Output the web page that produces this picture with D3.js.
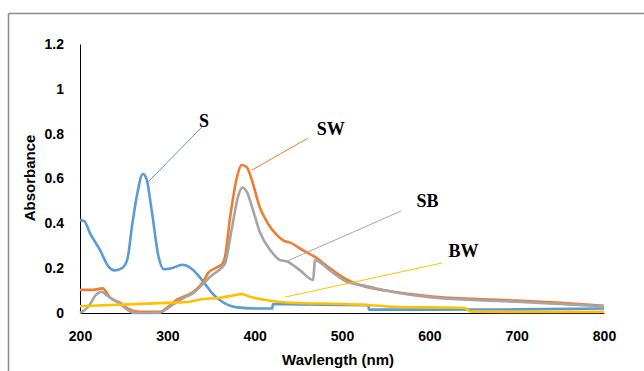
<!DOCTYPE html>
<html>
<head>
<meta charset="utf-8">
<script src="https://cdn.jsdelivr.net/npm/d3@7"></script>
<style>
  body { margin: 0; background: #fff; }
  .tick text { font-family: "Liberation Sans", Arial, sans-serif; font-weight: bold; font-size: 14px; fill: #000; }
  .axis-title { font-family: "Liberation Sans", Arial, sans-serif; font-weight: bold; font-size: 15px; fill: #000; }
  .note { font-family: "Liberation Serif", "Times New Roman", serif; font-weight: bold; font-size: 18px; fill: #000; }
</style>
</head>
<body>
<div id="chart"></div>
<script>
// S
const sWave = [200, 205, 211, 223, 232, 240, 248, 254, 260, 265, 272, 276, 282, 290, 296, 305, 317, 325, 330, 337, 345, 352, 360, 370, 380, 400, 420, 421, 450, 500, 530, 531, 600, 700, 800];
const sAbs  = [0.415, 0.41, 0.36, 0.28, 0.21, 0.19, 0.2, 0.236, 0.4, 0.52, 0.62, 0.6, 0.46, 0.25, 0.195, 0.2, 0.215, 0.205, 0.19, 0.16, 0.12, 0.085, 0.058, 0.035, 0.025, 0.02, 0.02, 0.04, 0.038, 0.036, 0.035, 0.015, 0.015, 0.016, 0.02];
// SW
const swWave = [200, 215, 226, 234, 246, 255, 262, 275, 292, 300, 311, 320, 330, 341, 347, 355, 363, 366, 372, 380, 385, 391, 397, 406, 415, 425, 435, 440, 455, 469, 486, 505, 524, 550, 600, 650, 700, 750, 800];
const swAbs  = [0.103, 0.103, 0.11, 0.07, 0.045, 0.02, 0.008, 0.005, 0.005, 0.025, 0.06, 0.075, 0.095, 0.14, 0.18, 0.2, 0.22, 0.25, 0.43, 0.61, 0.66, 0.65, 0.59, 0.47, 0.4, 0.35, 0.32, 0.315, 0.28, 0.25, 0.2, 0.15, 0.12, 0.1, 0.075, 0.063, 0.055, 0.045, 0.032];
// SB
const sbWave = [200, 210, 218, 225, 230, 238, 246, 254, 262, 290, 300, 311, 320, 330, 341, 350, 363, 366, 374, 381, 386, 391, 398, 406, 418, 429, 437, 452, 467, 469, 486, 505, 528, 550, 600, 650, 700, 750, 800];
const sbAbs  = [0, 0.03, 0.08, 0.095, 0.08, 0.06, 0.04, 0.015, 0, 0, 0.02, 0.05, 0.07, 0.09, 0.13, 0.165, 0.205, 0.22, 0.38, 0.52, 0.56, 0.54, 0.46, 0.36, 0.28, 0.236, 0.23, 0.19, 0.147, 0.236, 0.19, 0.14, 0.12, 0.1, 0.07, 0.058, 0.05, 0.04, 0.03];
// BW
const bwWave = [200, 250, 300, 326, 337, 360, 375, 385, 395, 418, 440, 500, 529, 558, 600, 640, 648, 700, 800];
const bwAbs  = [0.03, 0.038, 0.045, 0.05, 0.06, 0.068, 0.078, 0.085, 0.072, 0.055, 0.046, 0.04, 0.036, 0.028, 0.025, 0.022, 0.006, 0.005, 0.005];

const xTicks = [200, 300, 400, 500, 600, 700, 800];
const yTicks = [0, 0.2, 0.4, 0.6, 0.8, 1, 1.2];

const seriesNames = ["S", "SW", "SB", "BW"];
const seriesColors = ["#5B9BD5", "#ED7D31", "#A5A5A5", "#FFC000"];

// label position and leader line, in data units
const noteLabelX = [342, 487, 598, 639];
const noteLabelY = [0.83, 0.794, 0.473, 0.25];
const noteFromX = [339.7, 461, 567.6, 614.5];
const noteFromY = [0.83, 0.78, 0.455, 0.223];
const noteToX = [277.9, 397, 434.7, 434.7];
const noteToY = [0.584, 0.638, 0.2275, 0.071];

const W = 644, H = 371;
const svg = d3.select("#chart").append("svg")
    .attr("width", W)
    .attr("height", H);

// outer frame (only top and left visible)
svg.append("line").attr("x1", 8.5).attr("x2", W).attr("y1", 13.5).attr("y2", 13.5)
    .attr("stroke", "#8c8c8c").attr("stroke-width", 1.5);
svg.append("line").attr("x1", 8.5).attr("x2", 8.5).attr("y1", 13.5).attr("y2", H)
    .attr("stroke", "#8c8c8c").attr("stroke-width", 1.5);

const x = d3.scaleLinear().domain([200, 800]).range([80, 604]);
const y = d3.scaleLinear().domain([0, 1.2]).range([313, 44]);

// axes
const gx = svg.append("g")
    .attr("transform", `translate(0,${y(0)})`)
    .call(d3.axisBottom(x).tickValues(xTicks).tickSize(0).tickPadding(18).tickFormat(d3.format("d")));
gx.select(".domain").attr("stroke", "#000").attr("stroke-width", 1);

const gy = svg.append("g")
    .attr("transform", `translate(${x(200)},0)`)
    .call(d3.axisLeft(y).tickValues(yTicks).tickSize(0).tickPadding(16).tickFormat(d => String(d)));
gy.select(".domain").attr("stroke", "#000").attr("stroke-width", 1);

svg.append("text").attr("class", "axis-title")
    .attr("transform", "translate(35,178) rotate(-90)")
    .attr("text-anchor", "middle")
    .text("Absorbance");

svg.append("text").attr("class", "axis-title")
    .attr("x", 338).attr("y", 365)
    .attr("text-anchor", "middle")
    .text("Wavlength (nm)");

// series
const allWave = [sWave, swWave, sbWave, bwWave];
const allAbs = [sAbs, swAbs, sbAbs, bwAbs];

const line = d3.line()
    .x(d => x(d[0]))
    .y(d => y(d[1]))
    .curve(d3.curveMonotoneX);

seriesNames.forEach((name, i) => {
    const pts = allWave[i].map((w, j) => [w, allAbs[i][j]]);
    svg.append("path")
        .datum(pts)
        .attr("fill", "none")
        .attr("stroke", seriesColors[i])
        .attr("stroke-width", 2.6)
        .attr("stroke-linejoin", "round")
        .attr("d", line);
});

// callouts
seriesNames.forEach((name, i) => {
    svg.append("line")
        .attr("x1", x(noteFromX[i])).attr("y1", y(noteFromY[i]))
        .attr("x2", x(noteToX[i])).attr("y2", y(noteToY[i]))
        .attr("stroke", seriesColors[i])
        .attr("stroke-width", 1);
    svg.append("text").attr("class", "note")
        .attr("x", x(noteLabelX[i])).attr("y", y(noteLabelY[i]))
        .attr("text-anchor", "middle")
        .text(name);
});
</script>
</body>
</html>
